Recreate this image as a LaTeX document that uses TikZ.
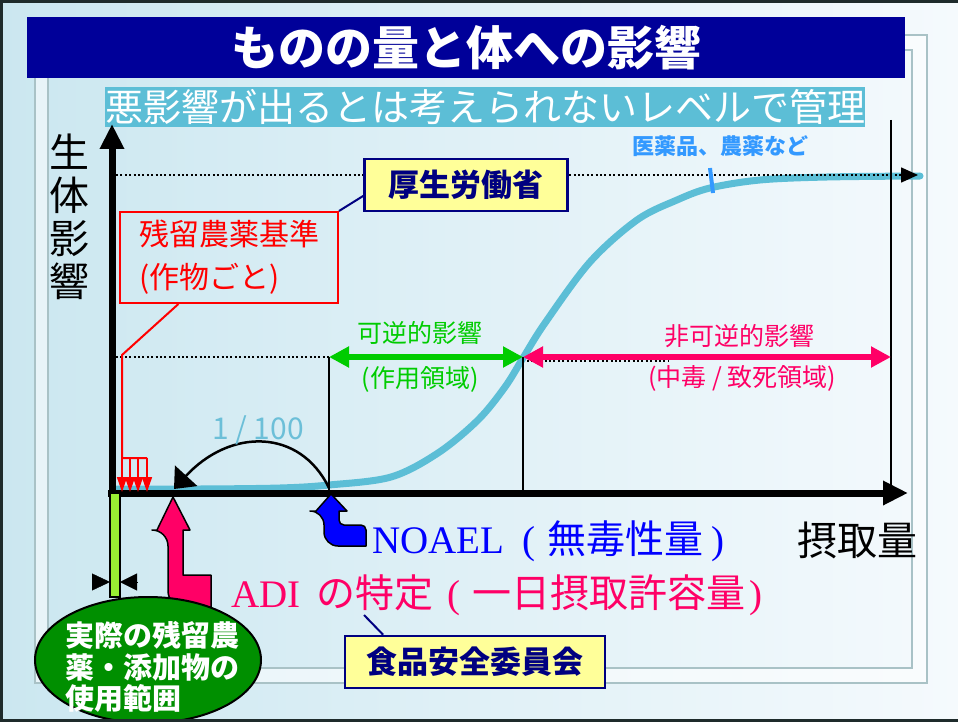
\documentclass[tikz,border=0pt]{standalone}
\usepackage{fontspec}
\setmainfont{Noto Sans CJK JP}
\newfontfamily\tms{Liberation Serif}
\usetikzlibrary{arrows.meta, positioning, calc}
\definecolor{titlenavy}{HTML}{000099}
\definecolor{boxnavy}{HTML}{000080}
\definecolor{curvecyan}{HTML}{5CBED6}
\definecolor{revgreen}{HTML}{00CC00}
\definecolor{irrpink}{HTML}{FF0066}
\definecolor{noaelblue}{HTML}{0000FF}
\definecolor{drugblue}{HTML}{3399FF}
\definecolor{ratiocyan}{HTML}{6CBFD8}
\definecolor{boxyellow}{HTML}{FFFF99}
\definecolor{usegreen}{HTML}{008F00}
\definecolor{barlime}{HTML}{99EE33}
\definecolor{bgleft}{HTML}{CBE7F0}
\definecolor{bgright}{HTML}{F5FAFD}
\definecolor{panelline}{HTML}{A9C2C6}
\definecolor{framedark}{HTML}{1E2B2B}
\newcommand{\fs}[1]{\fontsize{#1}{#1}\selectfont}

\begin{document}
\begin{tikzpicture}[x=1pt, y=-1pt,
    axis/.style={line width=7pt, -{Triangle[length=25pt,width=23pt]}},
    level/.style={line width=1.6pt, dash pattern=on 2pt off 2.4pt},
    bound/.style={line width=1.8pt},
    span/.style={line width=5.5pt, {Triangle[length=20pt,width=20pt]}-{Triangle[length=20pt,width=20pt]}},
    agency/.style={draw=boxnavy, fill=boxyellow, line width=2.5pt, text=boxnavy, font=\bfseries\fs{31}, inner sep=0pt, minimum height=52pt},
    block/.style={draw=black, line width=1.5pt, line join=round},
    spantext/.style={font=\fs{25}},
  ]
  \useasboundingbox (0,0) rectangle (958,722);
  \shade[left color=bgleft, right color=bgright] (0,0) rectangle (958,722);
  \fill[white, opacity=.55, even odd rule] (35,35) rectangle (927,683) (48,50) rectangle (912,668);
  \draw[panelline, line width=1.2pt] (35,35) rectangle (927,683) (48,50) rectangle (912,668);

  \node[fill=titlenavy, minimum width=878pt, minimum height=61pt, inner sep=0pt, text=white, font=\bfseries\fs{47}] (title) at (466,48) {ものの量と体への影響};
  \node[fill=curvecyan, minimum width=750pt, minimum height=40pt, inner sep=0pt, text=white, font=\fs{38}] (sub) at (485,107) {悪影響が出るとは考えられないレベルで管理};
  \node[font=\fontsize{40}{43}\selectfont, align=center] (ylab) at (69,217) {生\\体\\影\\響};
  \node[font=\fs{40}] (xlab) at (857,540) {摂取量};

  \coordinate (o) at (112,493);
  \coordinate (p1) at (329,357);
  \coordinate (p2) at (523,357);
  \coordinate (p3) at (891,357);
  \coordinate (noael) at (329,488);
  \coordinate (adi) at (174,489);

  \draw[curvecyan, line width=7pt, line cap=round] plot[smooth, tension=0.55] coordinates {(117,489) (200,489) (280,488) (329,485) (391,477) (438,453) (478,420) (505,387) (523,358) (545,323) (590,262) (637,220) (677,200) (710,188) (760,180) (827,177) (920,176)};

  \draw[level, -{Triangle[length=17pt,width=15pt]}] (116,175) -- (918,175);
  \draw[level] (116,357) -- (p1);
  \draw[level] (527,361) -- (668,361);

  \draw[bound] (p1) -- (p1 |- o);
  \draw[bound] (p2) -- (p2 |- o);
  \draw[bound] (891,120) -- (p3 |- o);

  \draw[axis] ($(o)+(-4,0)$) -- (908,493);
  \draw[axis] ($(o)+(0,4)$) -- (112,124);

  \draw[span, revgreen] (p1) -- (p2);
  \draw[span, irrpink] (p2) -- (p3);
  \node[spantext, text=revgreen] (revtop) at (420,333) {可逆的影響};
  \node[spantext, text=revgreen] (revbot) at (420,379) {(作用領域)};
  \node[spantext, text=irrpink] (irrtop) at (739,336) {非可逆的影響};
  \node[spantext, text=irrpink] (irrbot) at (742,378) {(中毒 / 致死領域)};

  \node[text=drugblue, font=\bfseries\fs{22}] (drug) at (720,146) {医薬品、農薬など};
  \draw[drugblue, line width=4pt] ($(drug.south)+(-10,8)$) -- +(3,25);

  \draw[line width=2.5pt, -{Triangle[length=18pt,width=30pt]}] (noael) .. controls (300,428) and (230,428) .. (adi);
  \node[text=ratiocyan, font=\fs{30}] (ratio) at (258,430) {1 / 100};

  \node[agency, minimum width=203pt] (mhlw) at (466,185) {厚生労働省};
  \node[draw=red, line width=2pt, text=red, font=\fontsize{30}{43}\selectfont, align=left, minimum width=218pt, minimum height=91pt, inner sep=0pt] (residue) at (229,257.5) {残留農薬基準\\(作物ごと)};
  \draw[boxnavy, line width=2pt] ($(mhlw.south west)!0.3!(mhlw.north west)$) -- (residue.north east);

  \coordinate (tine) at (122,355);
  \draw[red, line width=2pt] ($(residue.south west)!0.27!(residue.south east)$) -- (tine) -- (122,458) -- (147,458);
  \foreach \x in {122,130,138,147}
    \draw[red, line width=1.6pt, -{Triangle[length=15pt,width=10pt]}] (\x,458) -- (\x,492);

  \filldraw[block, fill=noaelblue] (331,494) -- (347,511) -- (339,511) [rounded corners=5pt] -- (339,525) -- (366,525) [sharp corners] -- (366,546) [rounded corners=14pt] -- (324,546) -- (324,511) [sharp corners] -- (316,511) -- cycle;
  \filldraw[block, fill=irrpink] (173,497) -- (190,530) -- (183,530) -- (183,575) -- (211,575) -- (211,607) [rounded corners=16pt] -- (168,607) -- (168,530) [sharp corners] -- (157,530) -- cycle;

  \node[anchor=west, text=noaelblue, font=\fs{39}, inner sep=0pt] (noaeltext) at (372,541) {{\tms NOAEL}\hspace{18pt}{\tms (}\hspace{12pt}無毒性量\hspace{8pt}{\tms )}};
  \node[anchor=west, text=irrpink, font=\fs{39}, inner sep=0pt] (aditext) at (231,595) {{\tms ADI}\hspace{16pt}の特定\hspace{14pt}{\tms (}\hspace{12pt}一日摂取許容量\hspace{4pt}{\tms )}};
  \coordinate (adipt) at (364,615);

  \node[agency, minimum width=260pt] (fsc) at (475,662) {食品安全委員会};
  \draw[boxnavy, line width=2pt] (adipt) -- ($(fsc.north west)!0.15!(fsc.north east)$);

  \filldraw[fill=barlime, draw=black, line width=1.2pt] (110,493) rectangle (120,597);
  \draw[-{Triangle[length=18pt,width=17pt]}] (92,582) -- (110,582);
  \draw[-{Triangle[length=17pt,width=17pt]}] (137,582) -- (120,582);

  \filldraw[fill=usegreen, draw=black, line width=2pt] (148,660) ellipse [x radius=113, y radius=63];
  \node[text=white, font=\bfseries\fontsize{29}{31.5}\selectfont, align=left, inner sep=0pt] (usage) at (152,667) {実際の残留農\\薬・添加物の\\使用範囲};

  \draw[framedark, line width=3pt] (958,1.5) -- (1.5,1.5) -- (1.5,720.5) -- (958,720.5);
\end{tikzpicture}
\end{document}
